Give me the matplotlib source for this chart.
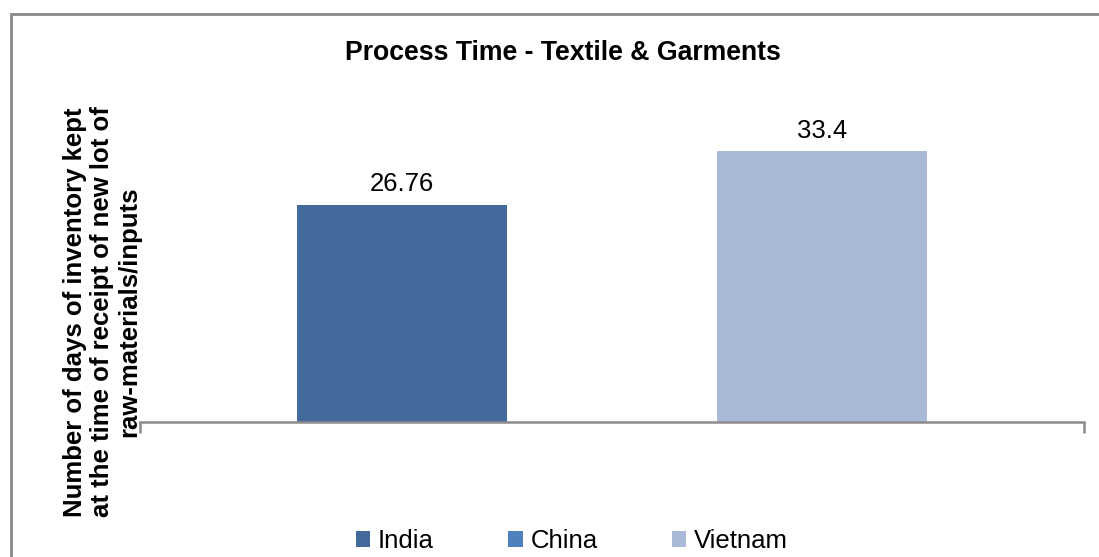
import matplotlib
matplotlib.use("Agg")
import matplotlib.pyplot as plt
from matplotlib.patches import Rectangle, Patch

plt.rcParams['font.family'] = ['Liberation Sans', 'DejaVu Sans']

title = "Process Time - Textile & Garments"
ylabel = "Number of days of inventory kept\nat the time of receipt of new lot of\nraw-materials/inputs"
series = ["India", "China", "Vietnam"]
values = [26.76, None, 33.4]
labels = ["26.76", "", "33.4"]
colors = ["#426A9B", "#4F81BD", "#A9B9D7"]

W, H = 1099, 557
fig = plt.figure(figsize=(W / 100, H / 100), dpi=100)

def fx(px):
    return px / W

def fy(py):
    return 1 - py / H

# outer chart border (extends beyond right/bottom)
fig.patches.append(Rectangle((fx(10.5), fy(H + 20)), fx(W + 40), fy(13.5) - fy(H + 20),
                             transform=fig.transFigure, fill=False,
                             edgecolor="#888888", linewidth=2))

ax = fig.add_axes([fx(140), fy(422), fx(1084) - fx(140), fy(98) - fy(422)])
width = 0.2225
for i, (s, v, lab, c) in enumerate(zip(series, values, labels, colors)):
    if v is None:
        continue
    x = (i - 1) * width
    ax.bar(x, v, width=width, color=c, edgecolor="none")
    ax.text(x, v + 1.1, lab, ha="center", va="bottom", fontsize=18.5, color="black")

ax.set_xlim(-0.5, 0.5)
ax.set_ylim(0, 40)
for sp in ["top", "right", "left"]:
    ax.spines[sp].set_visible(False)
ax.spines["bottom"].set_color("#8C8C8C")
ax.spines["bottom"].set_linewidth(1.8)
ax.set_yticks([])
ax.set_xticks([-0.5, 0.5])
ax.set_xticklabels([])
ax.tick_params(axis="x", length=8, width=1.8, color="#8C8C8C", direction="out")

fig.text(fx(562.5), fy(53), title, ha="center", va="center", fontsize=19.2, fontweight="bold")
fig.text(fx(102), fy(312), ylabel, ha="center", va="center", rotation=90,
         fontsize=18.5, fontweight="bold", linespacing=1.17, multialignment="center")

handles = [Patch(facecolor=c, edgecolor="none") for c in colors]
fig.legend(handles, series, loc="center", bbox_to_anchor=(fx(572), fy(541)), ncol=3,
           frameon=False, fontsize=18.5, handlelength=0.55, handleheight=0.55,
           handletextpad=0.3, columnspacing=2.9, borderpad=0, borderaxespad=0)

fig.savefig("out.png", dpi=100)
